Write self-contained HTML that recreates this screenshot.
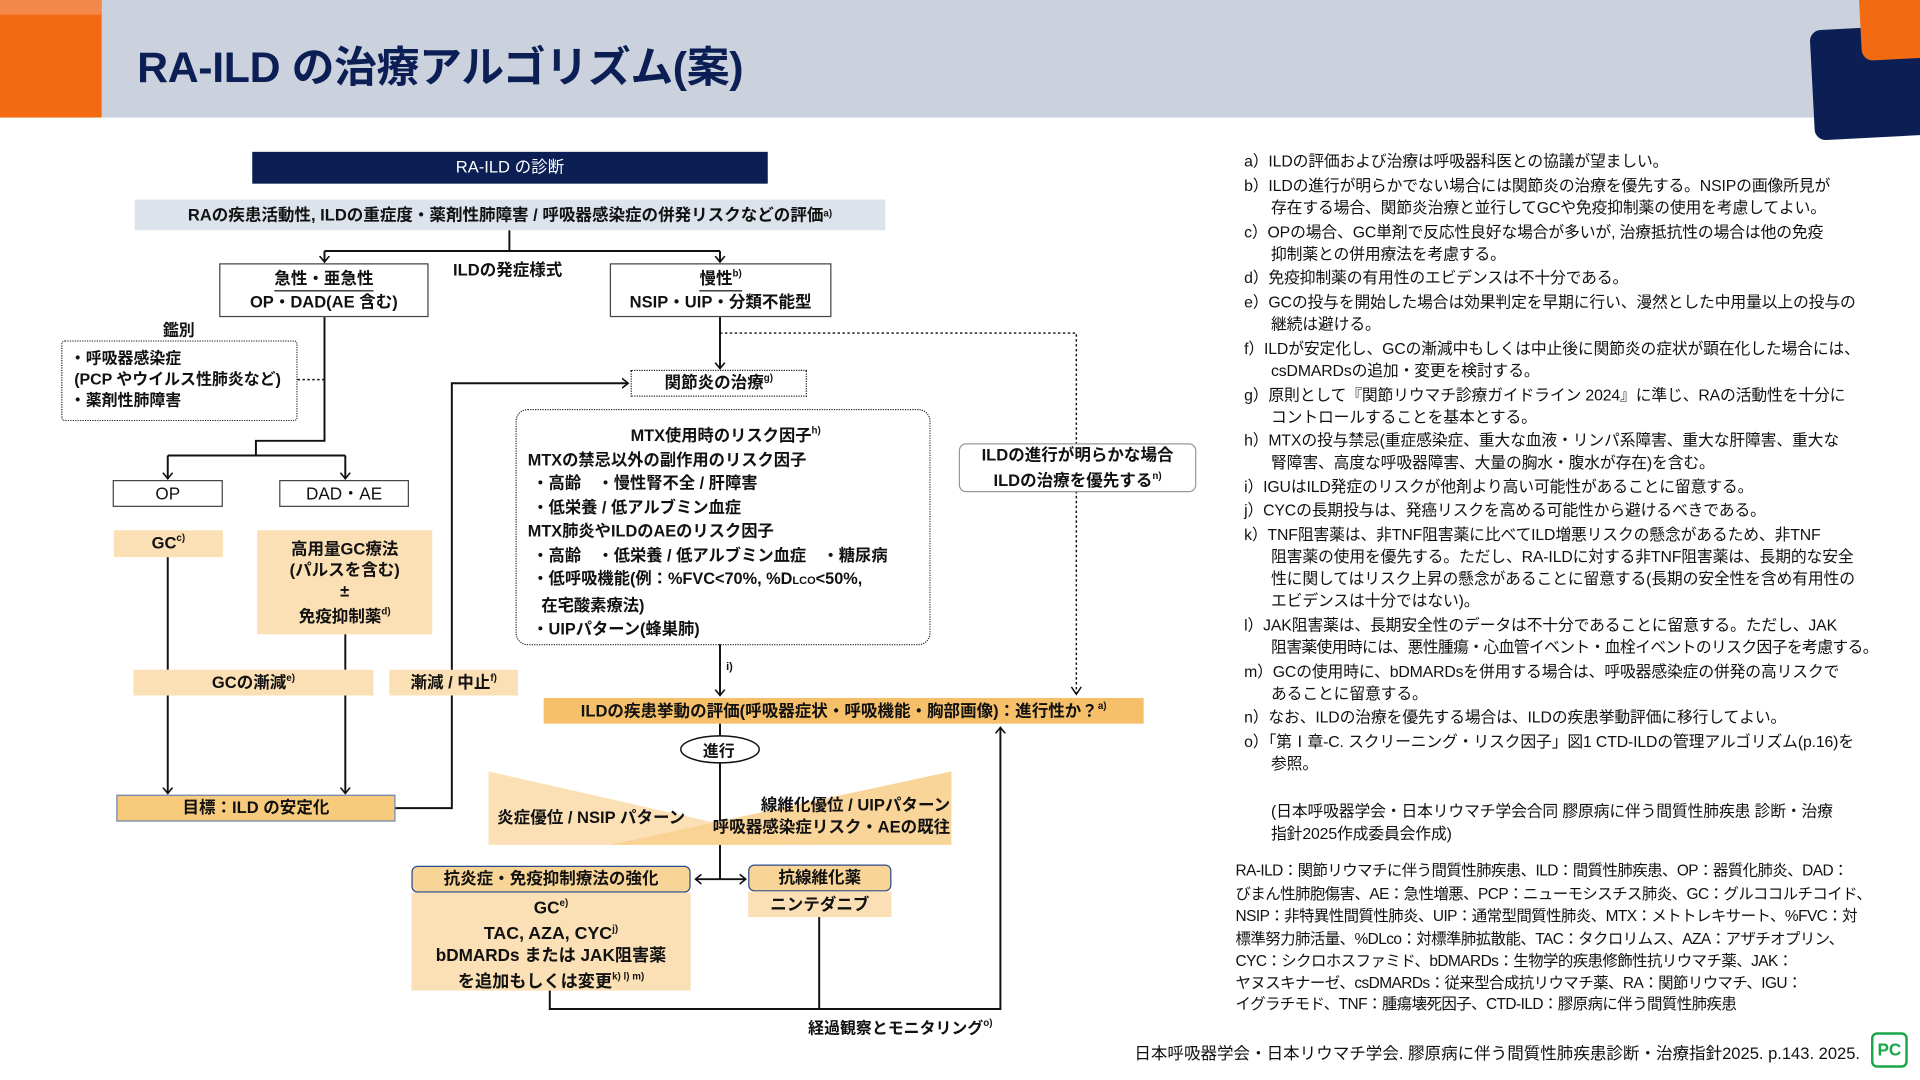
<!DOCTYPE html>
<html><head><meta charset="utf-8">
<style>
*{margin:0;padding:0;box-sizing:border-box}
html,body{width:1920px;height:1080px;overflow:hidden;background:#fff}
#s{position:absolute;left:0;top:0;width:1568px;height:882px;transform:scale(1.22449);transform-origin:0 0;font-family:"Liberation Sans","Noto Sans CJK JP",sans-serif;color:#111}
.a{position:absolute;white-space:nowrap}
.b{position:absolute;display:flex;align-items:center;justify-content:center;text-align:center;white-space:nowrap;font-size:13.5px;font-weight:bold;line-height:1.3}
.fc{font-size:13.5px;font-weight:bold}
sup{font-size:8px;vertical-align:6px}
.n{position:absolute;font-size:12.9px;white-space:nowrap;left:1016px;letter-spacing:-0.1px}
.n2{left:1038px}
.ab{position:absolute;left:1009px;font-size:12.6px;white-space:nowrap;letter-spacing:-0.45px}
</style></head><body><div id="s">
<div class="a" style="left:0;top:0;width:1568px;height:96px;background:#cbd2de"></div>
<div class="a" style="left:0;top:0;width:83px;height:96px;background:#f26a12"></div>
<div class="a" style="left:0;top:0;width:83px;height:12px;background:#f4884a"></div>
<div class="a" style="left:1480px;top:22px;width:110px;height:90px;background:#0b1f55;border-radius:9px;transform:rotate(-3deg)"></div>
<div class="a" style="left:1519px;top:-20px;width:70px;height:68px;background:#f26a12;border-radius:9px;transform:rotate(-3deg)"></div>
<div class="a" style="left:112px;top:27px;font-size:35px;font-weight:bold;color:#0b1f55;letter-spacing:-0.3px">RA-ILD の治療アルゴリズム(案)</div>

<svg class="a" style="left:0;top:0" width="1568" height="882" viewBox="0 0 1568 882">
<defs><marker id="ar" markerWidth="10" markerHeight="10" refX="5" refY="5" orient="auto" markerUnits="userSpaceOnUse"><path d="M0,1 L5,5 L0,9" fill="none" stroke="#111" stroke-width="1.3"/></marker></defs>
<g stroke="#111" stroke-width="1.6" fill="none">
<path d="M416 188 V205 M265 205 H588"/>
<path d="M265 205 V214" marker-end="url(#ar)"/><path d="M588 205 V214" marker-end="url(#ar)"/>
<path d="M265 258 V360 H209 V372 M137 372 H282"/>
<path d="M137 372 V391" marker-end="url(#ar)"/><path d="M282 372 V391" marker-end="url(#ar)"/>
<path d="M137 455 V547 M137 568 V648" marker-end="url(#ar)"/>
<path d="M282 518 V547 M282 568 V648" marker-end="url(#ar)"/>
<path d="M323 660 H369 V313 H513" marker-end="url(#ar)"/>
<path d="M588 258 V301" marker-end="url(#ar)"/>
<path d="M588 526 V568" marker-end="url(#ar)"/>
<path d="M588 591 V601 M588 623 V718"/>
<path d="M588 718 H568" marker-end="url(#ar)"/><path d="M588 718 H609" marker-end="url(#ar)"/>
<path d="M449 808 V824 H817 V594" marker-end="url(#ar)"/>
<path d="M669 748 V824"/>
</g>
<g stroke="#111" stroke-width="1.2" fill="none" stroke-dasharray="2,2">
<path d="M243 310 H265"/>
<path d="M588 272 H879 V566"/>
</g>
<path d="M875 561 L879 567 L883 561" fill="none" stroke="#111" stroke-width="1.2"/>
<polygon points="399,630 399,690 664,690" fill="#fbe0b5"/>
<polygon points="777,630 777,690 498,690" fill="#f9d08f" opacity="0.9"/>
<ellipse cx="588" cy="612" rx="32" ry="11" fill="#fff" stroke="#111" stroke-width="1.2"/>
</svg>

<div class="b" style="left:206px;top:124px;width:421px;height:26px;background:#0b1f55;color:#fff;font-weight:normal">RA-ILD の診断</div>
<div class="b" style="left:110px;top:163px;width:613px;height:25px;background:#dce3ec">RAの疾患活動性, ILDの重症度・薬剤性肺障害 / 呼吸器感染症の併発リスクなどの評価<sup>a)</sup></div>
<div class="a fc" style="left:370px;top:209px">ILDの発症様式</div>
<div class="b" style="left:179px;top:215px;width:171px;height:44px;border:1px solid #444;background:#fff;flex-direction:column"><span style="border-bottom:1px solid #111">急性・亜急性</span><span>OP・DAD(AE 含む)</span></div>
<div class="b" style="left:498px;top:215px;width:181px;height:44px;border:1px solid #444;background:#fff;flex-direction:column"><span style="border-bottom:1px solid #111">慢性<sup>b)</sup></span><span>NSIP・UIP・分類不能型</span></div>
<div class="a fc" style="left:133px;top:259px;font-size:13px">鑑別</div>
<div class="a fc" style="left:50px;top:278px;width:193px;height:66px;border:1.5px dotted #222;border-radius:3px;padding:5px 0 0 6px;line-height:17px;font-size:13px">・呼吸器感染症<br>&nbsp;(PCP やウイルス性肺炎など)<br>・薬剤性肺障害</div>
<div class="b" style="left:92px;top:392px;width:90px;height:22px;border:1px solid #444;background:#fff;font-weight:normal;font-size:14px">OP</div>
<div class="b" style="left:228px;top:392px;width:106px;height:22px;border:1px solid #444;background:#fff;font-weight:normal;font-size:14px">DAD・AE</div>
<div class="b" style="left:93px;top:433px;width:89px;height:22px;background:#fbe0b5"><span>GC<sup>c)</sup></span></div>
<div class="b" style="left:210px;top:433px;width:143px;height:85px;background:#fbe0b5;flex-direction:column;line-height:17px"><span>高用量GC療法</span><span>(パルスを含む)</span><span>±</span><span>免疫抑制薬<sup>d)</sup></span></div>
<div class="b" style="left:109px;top:547px;width:196px;height:21px;background:#fbe0b5"><span>GCの漸減<sup>e)</sup></span></div>
<div class="b" style="left:318px;top:547px;width:105px;height:21px;background:#fbe0b5"><span>漸減 / 中止<sup>f)</sup></span></div>
<div class="b" style="left:95px;top:649px;width:228px;height:22px;background:#f8cb7c;border:1.5px solid #6a86b8">目標：ILD の安定化</div>
<div class="b" style="left:515px;top:302px;width:144px;height:22px;border:1.5px dotted #222;background:#fff"><span>関節炎の治療<sup>g)</sup></span></div>
<div class="a fc" style="left:421px;top:334px;width:339px;height:193px;border:1.5px dotted #222;border-radius:10px;line-height:19.5px;padding:7px 0 0 9px;font-size:13.3px">
<div style="padding-left:84px">MTX使用時のリスク因子<sup>h)</sup></div>
<div>MTXの禁忌以外の副作用のリスク因子</div>
<div>&nbsp;・高齢　・慢性腎不全 / 肝障害</div>
<div>&nbsp;・低栄養 / 低アルブミン血症</div>
<div>MTX肺炎やILDのAEのリスク因子</div>
<div>&nbsp;・高齢　・低栄養 / 低アルブミン血症　・糖尿病</div>
<div>&nbsp;・低呼吸機能(例：%FVC&lt;70%, %D<span style="font-size:9px">LCO</span>&lt;50%,</div>
<div>&nbsp;&nbsp;&nbsp;在宅酸素療法)</div>
<div>&nbsp;・UIPパターン(蜂巣肺)</div>
</div>
<div class="b" style="left:783px;top:362px;width:194px;height:40px;border:1px solid #999;border-radius:6px;background:#fff;flex-direction:column;font-weight:bold;line-height:17px"><span>ILDの進行が明らかな場合</span><span>ILDの治療を優先する<sup>n)</sup></span></div>
<div class="a" style="left:593px;top:539px;font-size:9px;font-weight:bold">i)</div>
<div class="b" style="left:444px;top:570px;width:490px;height:21px;background:#f6c06a"><span>ILDの疾患挙動の評価(呼吸器症状・呼吸機能・胸部画像)：進行性か？<sup>a)</sup></span></div>
<div class="a fc" style="left:574px;top:603px;font-size:13px">進行</div>
<div class="a fc" style="left:406px;top:656px">炎症優位 / NSIP パターン</div>
<div class="a fc" style="left:582px;top:649px;text-align:right;line-height:18px">&nbsp;&nbsp;&nbsp;&nbsp;&nbsp;&nbsp;&nbsp;線維化優位 / UIPパターン<br>呼吸器感染症リスク・AEの既往</div>
<div class="b" style="left:336px;top:707px;width:228px;height:22px;background:#f8d596;border:1.3px solid #2b4a85;border-radius:5px">抗炎症・免疫抑制療法の強化</div>
<div class="b" style="left:336px;top:729px;width:228px;height:80px;background:#fbe0b5;flex-direction:column;line-height:17px;font-size:14px"><span>GC<sup>e)</sup></span><span style="font-size:14.5px">TAC, AZA, CYC<sup>j)</sup></span><span>bDMARDs または JAK阻害薬</span><span>を追加もしくは変更<sup>k) l) m)</sup></span></div>
<div class="b" style="left:611px;top:706px;width:117px;height:22px;background:#f8d596;border:1.3px solid #2b4a85;border-radius:5px">抗線維化薬</div>
<div class="b" style="left:611px;top:728px;width:117px;height:21px;background:#fbe0b5">ニンテダニブ</div>
<div class="a fc" style="left:660px;top:829px;font-size:13px">経過観察とモニタリング<sup>o)</sup></div>

<div class="n" style="top:121px">a）ILDの評価および治療は呼吸器科医との協議が望ましい。</div>
<div class="n" style="top:141px">b）ILDの進行が明らかでない場合には関節炎の治療を優先する。NSIPの画像所見が</div>
<div class="n n2" style="top:159px">存在する場合、関節炎治療と並行してGCや免疫抑制薬の使用を考慮してよい。</div>
<div class="n" style="top:179px">c）OPの場合、GC単剤で反応性良好な場合が多いが, 治療抵抗性の場合は他の免疫</div>
<div class="n n2" style="top:197px">抑制薬との併用療法を考慮する。</div>
<div class="n" style="top:216px">d）免疫抑制薬の有用性のエビデンスは不十分である。</div>
<div class="n" style="top:236px">e）GCの投与を開始した場合は効果判定を早期に行い、漫然とした中用量以上の投与の</div>
<div class="n n2" style="top:254px">継続は避ける。</div>
<div class="n" style="top:274px">f）ILDが安定化し、GCの漸減中もしくは中止後に関節炎の症状が顕在化した場合には、</div>
<div class="n n2" style="top:292px">csDMARDsの追加・変更を検討する。</div>
<div class="n" style="top:312px">g）原則として『関節リウマチ診療ガイドライン 2024』に準じ、RAの活動性を十分に</div>
<div class="n n2" style="top:330px">コントロールすることを基本とする。</div>
<div class="n" style="top:349px">h）MTXの投与禁忌(重症感染症、重大な血液・リンパ系障害、重大な肝障害、重大な</div>
<div class="n n2" style="top:367px">腎障害、高度な呼吸器障害、大量の胸水・腹水が存在)を含む。</div>
<div class="n" style="top:387px">i）IGUはILD発症のリスクが他剤より高い可能性があることに留意する。</div>
<div class="n" style="top:406px">j）CYCの長期投与は、発癌リスクを高める可能性から避けるべきである。</div>
<div class="n" style="top:426px">k）TNF阻害薬は、非TNF阻害薬に比べてILD増悪リスクの懸念があるため、非TNF</div>
<div class="n n2" style="top:444px">阻害薬の使用を優先する。ただし、RA-ILDに対する非TNF阻害薬は、長期的な安全</div>
<div class="n n2" style="top:462px">性に関してはリスク上昇の懸念があることに留意する(長期の安全性を含め有用性の</div>
<div class="n n2" style="top:480px">エビデンスは十分ではない)。</div>
<div class="n" style="top:500px">l）JAK阻害薬は、長期安全性のデータは不十分であることに留意する。ただし、JAK</div>
<div class="n n2" style="top:518px;letter-spacing:-0.5px">阻害薬使用時には、悪性腫瘍・心血管イベント・血栓イベントのリスク因子を考慮する。</div>
<div class="n" style="top:538px">m）GCの使用時に、bDMARDsを併用する場合は、呼吸器感染症の併発の高リスクで</div>
<div class="n n2" style="top:556px">あることに留意する。</div>
<div class="n" style="top:575px">n）なお、ILDの治療を優先する場合は、ILDの疾患挙動評価に移行してよい。</div>
<div class="n" style="top:595px">o）「第Ⅰ章-C. スクリーニング・リスク因子」図1 CTD-ILDの管理アルゴリズム(p.16)を</div>
<div class="n n2" style="top:613px">参照。</div>
<div class="n n2" style="top:652px">(日本呼吸器学会・日本リウマチ学会合同 膠原病に伴う間質性肺疾患 診断・治療</div>
<div class="n n2" style="top:670px">指針2025作成委員会作成)</div>
<div class="ab" style="top:700px">RA-ILD：関節リウマチに伴う間質性肺疾患、ILD：間質性肺疾患、OP：器質化肺炎、DAD：</div>
<div class="ab" style="top:719px">びまん性肺胞傷害、AE：急性増悪、PCP：ニューモシスチス肺炎、GC：グルココルチコイド、</div>
<div class="ab" style="top:737px">NSIP：非特異性間質性肺炎、UIP：通常型間質性肺炎、MTX：メトトレキサート、%FVC：対</div>
<div class="ab" style="top:756px">標準努力肺活量、%DLco：対標準肺拡散能、TAC：タクロリムス、AZA：アザチオプリン、</div>
<div class="ab" style="top:774px">CYC：シクロホスファミド、bDMARDs：生物学的疾患修飾性抗リウマチ薬、JAK：</div>
<div class="ab" style="top:792px">ヤヌスキナーゼ、csDMARDs：従来型合成抗リウマチ薬、RA：関節リウマチ、IGU：</div>
<div class="ab" style="top:809px">イグラチモド、TNF：腫瘍壊死因子、CTD-ILD：膠原病に伴う間質性肺疾患</div>
<div class="a" style="right:49px;top:849px;font-size:13.5px">日本呼吸器学会・日本リウマチ学会. 膠原病に伴う間質性肺疾患診断・治療指針2025. p.143. 2025.</div>
<div class="b" style="left:1528px;top:843px;width:30px;height:29px;border:2px solid #1aa64a;border-radius:5px;color:#1aa64a;font-size:14px;font-weight:bold">PC</div>
</div></body></html>
